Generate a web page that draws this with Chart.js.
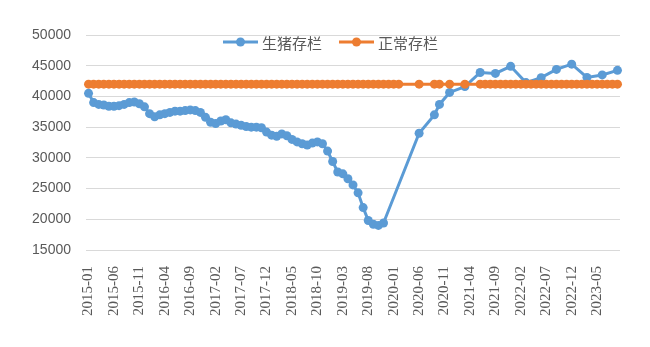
<!DOCTYPE html>
<html>
<head>
<meta charset="utf-8">
<script src="https://cdn.jsdelivr.net/npm/chart.js@4.4.1/dist/chart.umd.min.js"></script>
<style>
  body { margin: 0; background: #fff; }
  canvas { display: block; }
</style>
</head>
<body>
<canvas id="stockChart" width="650" height="347"></canvas>
<script>
// 月份（2015-01 ~ 2023-09）
const months = [
  '2015-01','2015-02','2015-03','2015-04','2015-05','2015-06','2015-07','2015-08','2015-09','2015-10','2015-11','2015-12',
  '2016-01','2016-02','2016-03','2016-04','2016-05','2016-06','2016-07','2016-08','2016-09','2016-10','2016-11','2016-12',
  '2017-01','2017-02','2017-03','2017-04','2017-05','2017-06','2017-07','2017-08','2017-09','2017-10','2017-11','2017-12',
  '2018-01','2018-02','2018-03','2018-04','2018-05','2018-06','2018-07','2018-08','2018-09','2018-10','2018-11','2018-12',
  '2019-01','2019-02','2019-03','2019-04','2019-05','2019-06','2019-07','2019-08','2019-09','2019-10','2019-11','2019-12',
  '2020-01','2020-02','2020-03','2020-04','2020-05','2020-06','2020-07','2020-08','2020-09','2020-10','2020-11','2020-12',
  '2021-01','2021-02','2021-03','2021-04','2021-05','2021-06','2021-07','2021-08','2021-09','2021-10','2021-11','2021-12',
  '2022-01','2022-02','2022-03','2022-04','2022-05','2022-06','2022-07','2022-08','2022-09','2022-10','2022-11','2022-12',
  '2023-01','2023-02','2023-03','2023-04','2023-05','2023-06','2023-07','2023-08','2023-09'
];

// 生猪存栏
const pigStock = [
  40500, 39000, 38700, 38600, 38400, 38400, 38500, 38700, 39000, 39100, 38800, 38300,
  37200, 36700, 37000, 37200, 37400, 37600, 37600, 37700, 37800, 37700, 37400, 36600,
  35800, 35600, 36000, 36200, 35700, 35500, 35300, 35100, 35000, 35000, 34900, 34200,
  33700, 33500, 33900, 33600, 33000, 32600, 32300, 32100, 32400, 32600, 32300, 31100,
  29400, 27700, 27400, 26600, 25600, 24300, 21900, 19800, 19200, 19000, 19400, null,
  null, null, null, null, null, 34000, null, null, 37000, 38700, null, 40650,
  null, null, 41600, null, null, 43900, null, null, 43750, null, null, 44900,
  null, null, 42250, null, null, 43050, null, null, 44400, null, null, 45250,
  null, null, 43100, null, null, 43500, null, null, 44250
];

// 正常存栏
const normalStock = [
  42000, 42000, 42000, 42000, 42000, 42000, 42000, 42000, 42000, 42000, 42000, 42000,
  42000, 42000, 42000, 42000, 42000, 42000, 42000, 42000, 42000, 42000, 42000, 42000,
  42000, 42000, 42000, 42000, 42000, 42000, 42000, 42000, 42000, 42000, 42000, 42000,
  42000, 42000, 42000, 42000, 42000, 42000, 42000, 42000, 42000, 42000, 42000, 42000,
  42000, 42000, 42000, 42000, 42000, 42000, 42000, 42000, 42000, 42000, 42000, 42000,
  42000, 42000, null, null, null, 42000, null, null, 42000, 42000, null, 42000,
  null, null, 42000, null, null, 42000, 42000, 42000, 42000, 42000, 42000, 42000,
  42000, 42000, 42000, 42000, 42000, 42000, 42000, 42000, 42000, 42000, 42000, 42000,
  42000, 42000, 42000, 42000, 42000, 42000, 42000, 42000, 42000
];

const BLUE = '#5B9BD5';
const ORANGE = '#ED7D31';

// 图例：线 + 圆点，模仿 Excel
const excelLegend = {
  id: 'excelLegend',
  afterDraw(chart) {
    const ctx = chart.ctx;
    let x = 223;
    const y = 42;
    ctx.save();
    ctx.font = '15px "Noto Sans CJK SC"';
    ctx.textBaseline = 'middle';
    chart.data.datasets.forEach(ds => {
      ctx.strokeStyle = ds.borderColor;
      ctx.lineWidth = 3;
      ctx.beginPath();
      ctx.moveTo(x, y);
      ctx.lineTo(x + 35, y);
      ctx.stroke();
      ctx.fillStyle = ds.borderColor;
      ctx.beginPath();
      ctx.arc(x + 17.5, y, 4.5, 0, Math.PI * 2);
      ctx.fill();
      ctx.fillStyle = '#595959';
      ctx.fillText(ds.label, x + 39, y + 1);
      x += 39 + ctx.measureText(ds.label).width + 17;
    });
    ctx.restore();
  }
};

const ctx = document.getElementById('stockChart').getContext('2d');
new Chart(ctx, {
  type: 'line',
  data: {
    labels: months,
    datasets: [{
      label: '生猪存栏',
      data: pigStock,
      borderColor: BLUE,
      backgroundColor: BLUE,
      borderWidth: 3,
      pointRadius: 4.5,
      pointBorderWidth: 0,
      spanGaps: true,
      order: 1
    }, {
      label: '正常存栏',
      data: normalStock,
      borderColor: ORANGE,
      backgroundColor: ORANGE,
      borderWidth: 3,
      pointRadius: 4.5,
      pointBorderWidth: 0,
      spanGaps: true,
      order: 0
    }]
  },
  options: {
    responsive: false,
    animation: false,
    layout: { padding: { top: 35, right: 30, left: 0, bottom: 0 } },
    plugins: {
      legend: { display: false },
      tooltip: { enabled: false }
    },
    scales: {
      x: {
        offset: true,
        grid: { display: false },
        border: { display: false },
        ticks: {
          autoSkip: false,
          maxRotation: 90,
          minRotation: 90,
          padding: 8,
          color: '#595959',
          font: { family: '"Liberation Serif"', size: 15 },
          callback: function(val, i) { return i % 5 === 0 ? months[i] : ''; }
        },
        afterFit: s => { s.height = 97; }
      },
      y: {
        min: 15000,
        max: 50000,
        grid: { color: '#d9d9d9', drawTicks: false },
        border: { display: false },
        ticks: {
          stepSize: 5000,
          padding: 15,
          color: '#595959',
          font: { family: '"Liberation Sans"', size: 14 },
          callback: v => String(v)
        },
        afterFit: s => { s.width = 86; }
      }
    }
  },
  plugins: [excelLegend]
});
</script>
</body>
</html>
